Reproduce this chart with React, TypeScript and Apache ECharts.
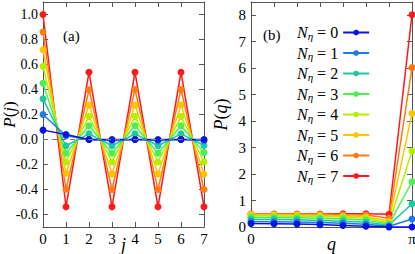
import React, { useEffect, useRef } from "react";
import * as echarts from "echarts";

const nEta = [0, 1, 2, 3, 4, 5, 6, 7];
const lineColors = ["#0a14e0", "#1a7ee6", "#1ec8a0", "#4cf050", "#b2f000", "#ffc400", "#ff7a10", "#ff1a1a"];

const jValues = [0, 1, 2, 3, 4, 5, 6, 7];
const pj0 = [0.075, 0.04, 0.0, 0.0, 0.0, 0.0, 0.0, 0.0];
const pj1 = [0.2, 0.03, 0.0, -0.01, 0.0, -0.01, 0.0, -0.01];
const pj2 = [0.325, -0.05, 0.045, -0.05, 0.045, -0.05, 0.045, -0.048];
const pj3 = [0.45, -0.11, 0.11, -0.11, 0.11, -0.11, 0.11, -0.105];
const pj4 = [0.585, -0.18, 0.185, -0.18, 0.185, -0.18, 0.185, -0.178];
const pj5 = [0.718, -0.27, 0.275, -0.275, 0.275, -0.275, 0.275, -0.276];
const pj6 = [0.86, -0.398, 0.398, -0.4, 0.4, -0.4, 0.4, -0.4];
const pj7 = [1.0, -0.538, 0.538, -0.538, 0.538, -0.538, 0.538, -0.538];
const pjSeries = [pj0, pj1, pj2, pj3, pj4, pj5, pj6, pj7];

// q = k * pi / 7
const qIndex = [0, 1, 2, 3, 4, 5, 6, 7];
const pq0 = [0.13, 0.12, 0.11, 0.09, 0.06, 0.03, 0.0, 0.0];
const pq1 = [0.21, 0.2, 0.19, 0.17, 0.14, 0.1, 0.03, 0.3];
const pq2 = [0.29, 0.28, 0.27, 0.25, 0.22, 0.18, 0.07, 0.88];
const pq3 = [0.37, 0.36, 0.35, 0.33, 0.3, 0.26, 0.11, 1.71];
const pq4 = [0.43, 0.42, 0.41, 0.4, 0.37, 0.33, 0.15, 2.87];
const pq5 = [0.47, 0.46, 0.45, 0.44, 0.42, 0.39, 0.22, 4.29];
const pq6 = [0.48, 0.48, 0.48, 0.47, 0.46, 0.45, 0.33, 6.02];
const pq7 = [0.49, 0.49, 0.49, 0.49, 0.5, 0.5, 0.48, 8.02];
const pqSeries = [pq0, pq1, pq2, pq3, pq4, pq5, pq6, pq7];

const pjTicks = [-0.6, -0.4, -0.2, 0, 0.2, 0.4, 0.6, 0.8, 1.0];
const pqTicks = [0, 1, 2, 3, 4, 5, 6, 7, 8];
const qTickLabels = ["0", "", "", "", "", "", "", "π"];

const FONT = "'Liberation Serif', 'DejaVu Serif', serif";
const FRAME = "#555";

function boxAxis(gridIndex: number, pos: string, show: boolean, extra: any) {
  return {
    gridIndex,
    type: "value",
    position: pos,
    nameMoveOverlap: false,
    axisLine: { show: true, onZero: false, lineStyle: { color: FRAME, width: 1 } },
    axisTick: { show: true, inside: true, length: 5, lineStyle: { color: FRAME, width: 1 } },
    axisLabel: { show, color: "#000", fontFamily: FONT, fontSize: 14 },
    splitLine: { show: false },
    ...extra,
  };
}

export default function App() {
  const ref = useRef<HTMLDivElement>(null);
  useEffect(() => {
    if (!ref.current) return;
    const chart = echarts.init(ref.current, null, { renderer: "svg" });
    const seriesA: any[] = [];
    const seriesB: any[] = [];
    for (let n = nEta.length - 1; n >= 0; n--) {
      const name = `Nη=${nEta[n]}`;
      const color = lineColors[n];
      seriesA.push({
        type: "line",
        name,
        xAxisIndex: 0,
        yAxisIndex: 0,
        data: jValues.map((j, i) => [j, pjSeries[n][i]]),
        symbol: "circle",
        symbolSize: 7,
        clip: false,
        lineStyle: { color, width: 1.5 },
        itemStyle: { color },
        ...(n === nEta.length - 1
          ? {
              markLine: {
                silent: true,
                symbol: ["none", "none"],
                label: { show: false },
                lineStyle: { type: [5, 4], color: "#777", width: 1 },
                data: [{ yAxis: 0 }],
              },
            }
          : {}),
      });
      seriesB.push({
        type: "line",
        name,
        xAxisIndex: 2,
        yAxisIndex: 2,
        data: qIndex.map((k, i) => [k, pqSeries[n][i]]),
        symbol: "circle",
        symbolSize: 7,
        clip: false,
        lineStyle: { color, width: 1.5 },
        itemStyle: { color },
      });
    }
    const italic = { fontStyle: "italic", fontFamily: FONT, fontSize: 18, color: "#000" };
    const plain = { fontFamily: FONT, fontSize: 18, color: "#000" };
    const italicY = { fontStyle: "italic", fontFamily: FONT, fontSize: 17, color: "#000" };
    const plainY = { fontFamily: FONT, fontSize: 17, color: "#000" };
    chart.setOption({
      animation: false,
      grid: [
        { left: 43, top: 2, width: 161, height: 225, outerBoundsMode: "none", containLabel: false },
        { left: 251, top: 2, width: 161, height: 225, outerBoundsMode: "none", containLabel: false },
      ],
      xAxis: [
        boxAxis(0, "bottom", true, {
          min: 0, max: 7, interval: 1,
          name: "{i|j}", nameLocation: "middle", nameGap: 9,
          nameTextStyle: { ...plain, rich: { i: italic } },
          axisLabel: { show: true, color: "#000", fontFamily: FONT, fontSize: 15, margin: 4 },
        }),
        boxAxis(0, "top", false, { min: 0, max: 7, interval: 1 }),
        boxAxis(1, "bottom", true, {
          min: 0, max: 7, interval: 1,
          name: "{i|q}", nameLocation: "middle", nameGap: 8,
          nameTextStyle: { ...plain, rich: { i: italic } },
          axisLabel: {
            show: true, color: "#000", fontFamily: FONT, fontSize: 15, margin: 4,
            formatter: (v: number) => qTickLabels[Math.round(v)] ?? "",
          },
        }),
        boxAxis(1, "top", false, { min: 0, max: 7, interval: 1 }),
      ],
      yAxis: [
        boxAxis(0, "left", true, {
          min: -0.7, max: 1.1,
          name: "{i|P}({i|j})", nameLocation: "middle", nameGap: 25,
          nameTextStyle: { ...plainY, rich: { i: italicY } },
          axisTick: { show: true, inside: true, length: 5, customValues: pjTicks, lineStyle: { color: FRAME } },
          axisLabel: {
            show: true, color: "#000", fontFamily: FONT, fontSize: 14, margin: 5,
            customValues: pjTicks,
            formatter: (v: number) => v.toFixed(1),
          },
        }),
        boxAxis(0, "right", false, {
          min: -0.7, max: 1.1,
          axisTick: { show: true, inside: true, length: 5, customValues: pjTicks, lineStyle: { color: FRAME } },
        }),
        boxAxis(1, "left", true, {
          min: 0, max: 8.5,
          name: "{i|P}({i|q})", nameLocation: "middle", nameGap: 21,
          nameTextStyle: { ...plain, rich: { i: italic } },
          axisTick: { show: true, inside: true, length: 5, customValues: pqTicks, lineStyle: { color: FRAME } },
          axisLabel: {
            show: true, color: "#000", fontFamily: FONT, fontSize: 15, margin: 5,
            customValues: pqTicks,
          },
        }),
        boxAxis(1, "right", false, {
          min: 0, max: 8.5,
          axisTick: { show: true, inside: true, length: 5, customValues: pqTicks, lineStyle: { color: FRAME } },
        }),
      ],
      legend: {
        orient: "vertical",
        left: 297,
        top: 24,
        padding: 0,
        align: "right",
        itemWidth: 26,
        itemHeight: 7,
        itemGap: 3.5,
        data: nEta.map((n) => `Nη=${n}`),
        formatter: (name: string) => `{n|N}{s|η}{e| = ${name.split("=")[1]}}`,
        textStyle: {
          color: "#000",
          fontFamily: FONT,
          fontSize: 16,
          rich: {
            n: { fontStyle: "italic", fontFamily: FONT, fontSize: 16, color: "#000", lineHeight: 16 },
            s: { fontStyle: "italic", fontFamily: FONT, fontSize: 11, color: "#000", padding: [6, 0, 0, 0], lineHeight: 16 },
            e: { fontFamily: FONT, fontSize: 16, color: "#000", lineHeight: 16 },
          },
        },
      },
      graphic: [
        { type: "text", left: 63, top: 28, style: { text: "(a)", fontFamily: FONT, fontSize: 15, fill: "#000" } },
        { type: "text", left: 263, top: 27, style: { text: "(b)", fontFamily: FONT, fontSize: 15, fill: "#000" } },
      ],
      series: [...seriesA, ...seriesB],
    });
    return () => chart.dispose();
  }, []);
  return (
    <div
      ref={ref}
      style={{ position: "fixed", left: 0, top: 0, width: 415, height: 254, background: "#fff" }}
    />
  );
}
